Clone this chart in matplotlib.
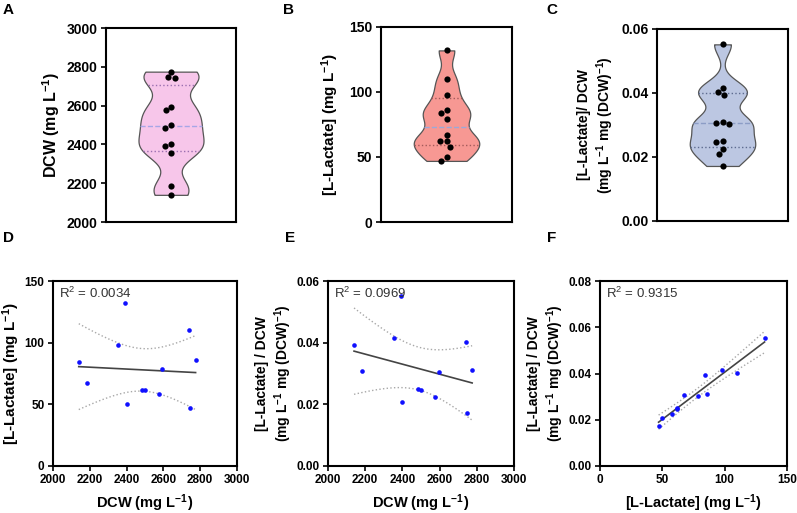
import numpy as np
import matplotlib
matplotlib.use("Agg")
from matplotlib import pyplot as plt

plt.rcParams['font.family'] = ['Liberation Sans', 'DejaVu Sans']
plt.rcParams['mathtext.default'] = 'regular'

# 12 cultures, same order in every array
dcw = [2140, 2185, 2355, 2390, 2400, 2485, 2500, 2575, 2595, 2740, 2745, 2775]
lactate = [84, 67, 98, 132, 50, 62, 62, 58, 79, 110, 47, 86]
ratio = [0.0393, 0.0307, 0.0416, 0.0552, 0.0208, 0.0250, 0.0248, 0.0225,
         0.0304, 0.0402, 0.0172, 0.0310]
r2_labels = ["R$^2$ = 0.0034", "R$^2$ = 0.0969", "R$^2$ = 0.9315"]

W, H = 797, 513
fig = plt.figure(figsize=(W / 100, H / 100), dpi=100)


def px_axes(left, right, top, bottom):
    return fig.add_axes([left / W, (H - bottom) / H, (right - left) / W, (bottom - top) / H])


def style(ax, size, xticks=True):
    for s in ax.spines.values():
        s.set_linewidth(1.5)
    ax.tick_params(axis='both', direction='out', length=3.6, width=1.2,
                   labelsize=size, pad=2.5)
    for lab in ax.get_xticklabels() + ax.get_yticklabels():
        lab.set_fontweight('bold')
    if not xticks:
        ax.set_xticks([])


def swarm(ax, vals, ylim, d=6.5):
    # simple beeswarm in pixel space
    bb = ax.get_position()
    ux = bb.width * W / 2.0
    uy = bb.height * H / (ylim[1] - ylim[0])
    vals = np.asarray(vals, float)
    xs = np.zeros(len(vals))
    placed = []
    for i in np.argsort(vals)[::-1]:
        yp = vals[i] * uy
        bad = []
        for xj, yj in placed:
            dy = abs(yp - yj)
            if dy < d:
                r = np.sqrt(d * d - dy * dy)
                bad.append((xj - r, xj + r))
        cands = [0.0] + [e for iv in bad for e in iv]
        cands.sort(key=abs)
        for c in cands:
            if all(not (lo + 1e-6 < c < hi - 1e-6) for lo, hi in bad):
                break
        placed.append((c, yp))
        xs[i] = c / ux
    ax.scatter(xs, vals, s=20, color='black', zorder=3, linewidths=0)


def violin(ax, vals, face, qcol, mcol, bw=0.3):
    v = np.sort(np.asarray(vals, float))
    h = bw * v.std(ddof=1)
    ys = np.linspace(v.min(), v.max(), 400)
    dens = np.exp(-0.5 * ((ys[:, None] - v[None, :]) / h) ** 2).sum(axis=1)
    w = 0.5 * dens / dens.max()
    ax.fill_betweenx(ys, -w, w, facecolor=face, edgecolor='#555555', lw=0.9, zorder=1)
    q1, med, q3 = np.percentile(v, [25, 50, 75], method='weibull')
    for q, c, ls in [(q1, qcol, ':'), (med, mcol, '--'), (q3, qcol, ':')]:
        wq = np.interp(q, ys, w)
        ax.plot([-wq, wq], [q, q], color=c, ls=ls, lw=1.0, zorder=2)


def fit_band(ax, x, y):
    x = np.asarray(x, float)
    y = np.asarray(y, float)
    b, a = np.polyfit(x, y, 1)
    xs = np.linspace(x.min(), x.max(), 100)
    yhat = a + b * xs
    s = np.sqrt(np.sum((y - (a + b * x)) ** 2) / (len(x) - 2))
    sxx = np.sum((x - x.mean()) ** 2)
    se = s * np.sqrt(1 / len(x) + (xs - x.mean()) ** 2 / sxx)
    t = 2.228
    ax.plot(xs, yhat, color='#444444', lw=1.2, zorder=2)
    ax.plot(xs, yhat + t * se, ls=':', color='#a8a8a8', lw=1.0, zorder=1)
    ax.plot(xs, yhat - t * se, ls=':', color='#a8a8a8', lw=1.0, zorder=1)
    ax.scatter(x, y, s=11, color='#1010ff', linewidths=0, zorder=3)


lab1 = "(mg L$^{-1}$ mg (DCW)$^{-1}$)"

# --- top row: violins
axA = px_axes(106, 236, 28, 222)
violin(axA, dcw, '#f7c6ea', '#9a6fb0', '#a6a6e6')
axA.set_xlim(-1, 1)
axA.set_ylim(2000, 3000)
axA.set_yticks([2000, 2200, 2400, 2600, 2800, 3000])
swarm(axA, dcw, (2000, 3000))
axA.set_ylabel("DCW (mg L$^{-1}$)", fontsize=11.5, fontweight='bold', labelpad=3)
style(axA, 10, xticks=False)

axB = px_axes(381, 512, 27, 222)
violin(axB, lactate, '#f79893', '#a35a5a', '#9aa9d9')
axB.set_xlim(-1, 1)
axB.set_ylim(0, 150)
axB.set_yticks([0, 50, 100, 150])
swarm(axB, lactate, (0, 150))
axB.set_ylabel("[L-Lactate] (mg L$^{-1}$)", fontsize=11, fontweight='bold', labelpad=6)
style(axB, 10, xticks=False)

axC = px_axes(657, 788, 29, 221)
violin(axC, ratio, '#bcc7e2', '#5d6b8f', '#8c9dc6')
axC.set_xlim(-1, 1)
axC.set_ylim(0, 0.06)
axC.set_yticks([0, 0.02, 0.04, 0.06])
axC.set_yticklabels(["0.00", "0.02", "0.04", "0.06"])
swarm(axC, ratio, (0, 0.06))
axC.set_ylabel("[L-Lactate]/ DCW\n" + lab1, fontsize=10, fontweight='bold', labelpad=4)
style(axC, 10, xticks=False)

# --- bottom row: correlations
axD = px_axes(53, 237, 281, 466)
fit_band(axD, dcw, lactate)
axD.set_xlim(2000, 3000)
axD.set_ylim(0, 150)
axD.set_xticks([2000, 2200, 2400, 2600, 2800, 3000])
axD.set_yticks([0, 50, 100, 150])
axD.set_xlabel("DCW (mg L$^{-1}$)", fontsize=10.5, fontweight='bold', labelpad=4)
axD.set_ylabel("[L-Lactate] (mg L$^{-1}$)", fontsize=11, fontweight='bold', labelpad=2)
style(axD, 8.5)

axE = px_axes(328, 514, 281, 466)
fit_band(axE, dcw, ratio)
axE.set_xlim(2000, 3000)
axE.set_ylim(0, 0.06)
axE.set_xticks([2000, 2200, 2400, 2600, 2800, 3000])
axE.set_yticks([0, 0.02, 0.04, 0.06])
axE.set_yticklabels(["0.00", "0.02", "0.04", "0.06"])
axE.set_xlabel("DCW (mg L$^{-1}$)", fontsize=10.5, fontweight='bold', labelpad=4)
axE.set_ylabel("[L-Lactate] / DCW\n" + lab1, fontsize=10, fontweight='bold', labelpad=2)
style(axE, 8.5)

axF = px_axes(600, 787, 281, 466)
fit_band(axF, lactate, ratio)
axF.set_xlim(0, 150)
axF.set_ylim(0, 0.08)
axF.set_xticks([0, 50, 100, 150])
axF.set_yticks([0, 0.02, 0.04, 0.06, 0.08])
axF.set_yticklabels(["0.00", "0.02", "0.04", "0.06", "0.08"])
axF.set_xlabel("[L-Lactate] (mg L$^{-1}$)", fontsize=10.5, fontweight='bold', labelpad=4)
axF.set_ylabel("[L-Lactate] / DCW\n" + lab1, fontsize=10, fontweight='bold', labelpad=2)
style(axF, 8.5)

for ax, txt in zip([axD, axE, axF], r2_labels):
    ax.text(0.03, 0.975, txt, transform=ax.transAxes, fontsize=9.5,
            color='#333333', va='top', ha='left')

for letter, x, y in [("A", 3, 10), ("B", 283, 10), ("C", 546, 10),
                     ("D", 3, 238), ("E", 285, 238), ("F", 547, 238)]:
    fig.text(x / W, 1 - y / H, letter, fontsize=11, fontweight='bold', va='center')

fig.savefig("out.png", dpi=100)
